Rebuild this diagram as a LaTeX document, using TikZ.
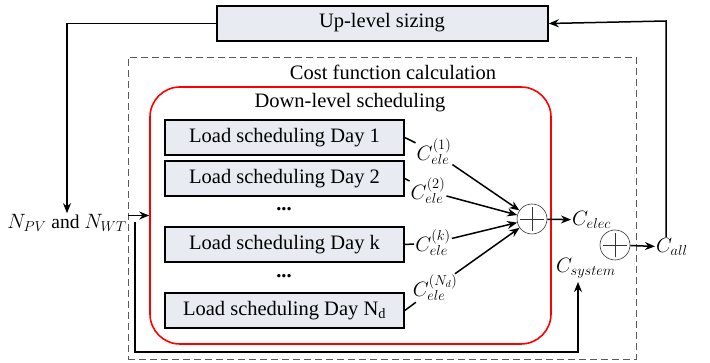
\documentclass[tikz,border=0pt]{standalone}
\usepackage{fontspec}
\setmainfont{Liberation Serif}
\usetikzlibrary{arrows.meta}
\definecolor{boxfill}{RGB}{232,236,242}
\definecolor{dashgray}{RGB}{90,90,90}
\tikzset{
  blk/.style={draw=black, line width=1.6pt, fill=boxfill, inner sep=0pt},
  txt/.style={inner sep=1pt, font=\fontsize{20.5}{24}\selectfont},
  mlab/.style={inner sep=1pt, font=\fontsize{19.5}{22}\selectfont},
  sumnode/.style={draw=black!80, line width=0.6pt, circle, minimum size=30pt, inner sep=0pt,
    path picture={\draw[line width=0.6pt] ([xshift=-12pt]path picture bounding box.center) -- ([xshift=12pt]path picture bounding box.center);
                  \draw[line width=0.6pt] ([yshift=-12pt]path picture bounding box.center) -- ([yshift=12pt]path picture bounding box.center);}},
  conn/.style={line width=1.5pt},
  arr/.style={line width=1.5pt, -{Stealth[length=10pt,width=8pt]}},
}
\begin{document}
\begin{tikzpicture}[x=1pt,y=-1pt]
\useasboundingbox (0,0) rectangle (710,363);
% outer dashed box
\node[draw=dashgray, line width=0.8pt, dash pattern=on 7pt off 4pt, minimum width=508pt, minimum height=302pt, inner sep=0pt] (cost) at (382,208) {};
\node[txt] (costlab) at (393,72) {Cost function calculation};
% red rounded box
\node[draw=red, line width=1.6pt, rounded corners=30pt, minimum width=401pt, minimum height=257pt, inner sep=0pt] (red) at (350.5,215.5) {};
\node[txt] (downlab) at (350,103) {Down-level scheduling};
% up-level
\node[blk, minimum width=331pt, minimum height=35pt] (up) at (382.5,23.5) {};
\node[txt] (uplab) at (382,23) {Up-level sizing};
% load boxes
\node[blk, minimum width=239pt, minimum height=35pt, txt] (d1) at (284.5,137.5) {Load scheduling Day 1};
\node[blk, minimum width=239pt, minimum height=35pt, txt] (d2) at (284.5,178.5) {Load scheduling Day 2};
\node[blk, minimum width=239pt, minimum height=35pt, txt] (dk) at (284.5,244.5) {Load scheduling Day k};
\node[blk, minimum width=239pt, minimum height=35pt, txt] (dn) at (284.5,310.5) {Load scheduling Day N\textsubscript{d}};
\node[txt] (dots1) at (284,209) {\textbf{...}};
\node[txt] (dots2) at (284,276) {\textbf{...}};
% labels
\node[mlab] (c1) at (434,152) {$C_{ele}^{(1)}$};
\node[mlab] (c2) at (428,191) {$C_{ele}^{(2)}$};
\node[mlab] (ck) at (433,243) {$C_{ele}^{(k)}$};
\node[mlab] (cn) at (435,288) {$C_{ele}^{(N_d)}$};
% sums
\node[sumnode] (s1) at (532,219) {};
\node[sumnode] (s2) at (615,245) {};
\node[mlab, anchor=west] (celec) at (571,220) {$C_{elec}$};
\node[mlab, anchor=west] (call) at (655,247) {$C_{all}$};
\node[mlab] (csys) at (586,268) {$C_{system}$};
\node[mlab] (npv) at (67,223) {$N_{PV}$ and $N_{WT}$};
\coordinate (fb) at (135,222);
\coordinate (fbb) at (135,352);
\coordinate (csin) at (578,282);
\coordinate (rin) at (666,21);
% connectors
\draw[conn] (d1.east) -- (c1);
\draw[conn] (d2.east) -- (c2);
\draw[conn] (dk.east) -- (ck);
\draw[conn] (dn.east) -- (cn);
\draw[arr] (c1) -- (s1);
\draw[arr] (c2) -- (s1);
\draw[arr] (ck) -- (s1);
\draw[arr] (cn) -- (s1);
\draw[arr] (s1) -- (celec);
\draw[arr] (s2) -- (call);
\draw[arr] (up.west) -| (npv.north);
\draw[arr] (call.north -| rin) -- (rin) -- (up.east);
\draw[arr] (npv.east |- red.west) -- (red.west);
\draw[arr] (fb) -- (fbb) -| (csin);
\end{tikzpicture}
\end{document}
